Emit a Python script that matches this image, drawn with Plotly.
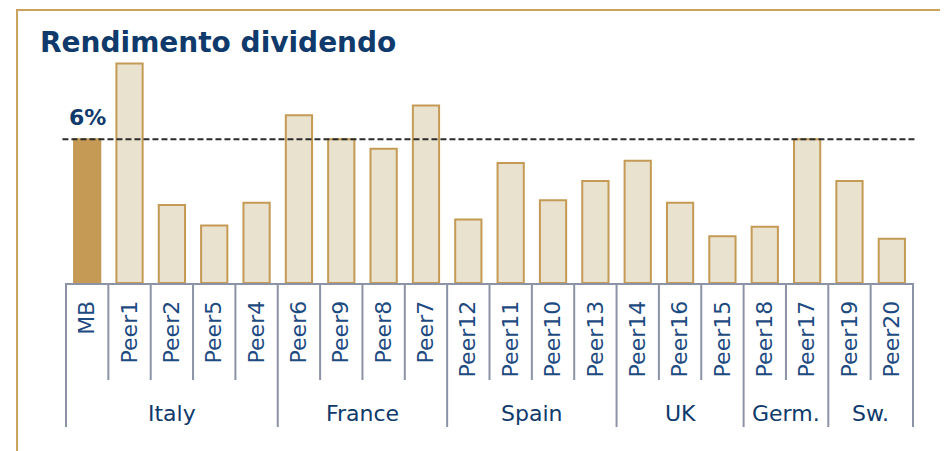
import plotly.graph_objects as go

# dividend yield (%) per bank
categories = ["MB", "Peer1", "Peer2", "Peer5", "Peer4",
              "Peer6", "Peer9", "Peer8", "Peer7",
              "Peer12", "Peer11", "Peer10", "Peer13",
              "Peer14", "Peer16", "Peer15",
              "Peer18", "Peer17",
              "Peer19", "Peer20"]
values = [6.0, 9.15, 3.25, 2.4, 3.35,
          7.0, 6.0, 5.6, 7.4,
          2.65, 5.0, 3.45, 4.25,
          5.1, 3.35, 1.95,
          2.35, 6.0,
          4.25, 1.85]
groups = ["Italy", "France", "Spain", "UK", "Germ.", "Sw."]
group_sizes = [5, 4, 4, 3, 2, 2]
reference = 6.0

navy = "#0f3a6b"
gold = "#c49a55"
beige = "#e8e2cf"
grey = "#8d93a6"

fill = [gold if c == "MB" else beige for c in categories]

fig = go.Figure(go.Bar(
    x=categories, y=values,
    marker=dict(color=fill, line=dict(color=gold, width=2)),
    width=0.62,
))

shapes = []
# outer frame
shapes.append(dict(type="rect", xref="paper", yref="paper",
                   x0=-0.0565, x1=1.033, y0=-1.2, y1=1.224,
                   line=dict(color="#c9a25c", width=2), layer="below"))
# reference line
shapes.append(dict(type="line", xref="paper", yref="y",
                   x0=-0.003, x1=1.004, y0=reference, y1=reference,
                   line=dict(color="#2b2b2b", width=2, dash="6px,3px")))

# group boundaries (long) and category separators (short)
bounds = [-0.5]
for n in group_sizes:
    bounds.append(bounds[-1] + n)
for i in range(len(categories) + 1):
    b = i - 0.5
    low = -0.646 if b in bounds else -0.435
    shapes.append(dict(type="line", xref="x", yref="paper",
                       x0=b, x1=b, y0=0, y1=low,
                       line=dict(color=grey, width=2)))

annotations = []
for g, lo, hi in zip(groups, bounds[:-1], bounds[1:]):
    annotations.append(dict(x=(lo + hi) / 2, y=-0.583, xref="x", yref="paper",
                            text=g, showarrow=False, yanchor="middle",
                            font=dict(family="DejaVu Sans", size=22, color=navy)))
annotations.append(dict(x=0, y=reference, xref="x", yref="y", yshift=22,
                        text="<b>6%</b>", showarrow=False,
                        font=dict(family="DejaVu Sans", size=22, color=navy)))

# the page adds an 8px body margin, so offsets are shifted by 8px
fig.update_layout(
    width=948, height=451,
    margin=dict(l=57, r=42, t=52, b=176),
    paper_bgcolor="white", plot_bgcolor="white",
    showlegend=False,
    title=dict(text="<b>Rendimento dividendo</b>", x=32 / 948, xanchor="left",
               y=1 - 34 / 451, yanchor="middle",
               font=dict(family="DejaVu Sans", size=28, color=navy)),
    xaxis=dict(showline=True, linecolor=grey, linewidth=2, ticks="",
               tickangle=-90, ticklabelstandoff=7,
               tickfont=dict(family="DejaVu Sans", size=22, color="#1d4a80"),
               showgrid=False, zeroline=False),
    yaxis=dict(range=[0, 9.3], visible=False, showgrid=False),
    shapes=shapes,
    annotations=annotations,
)

fig.write_html("out.html")
